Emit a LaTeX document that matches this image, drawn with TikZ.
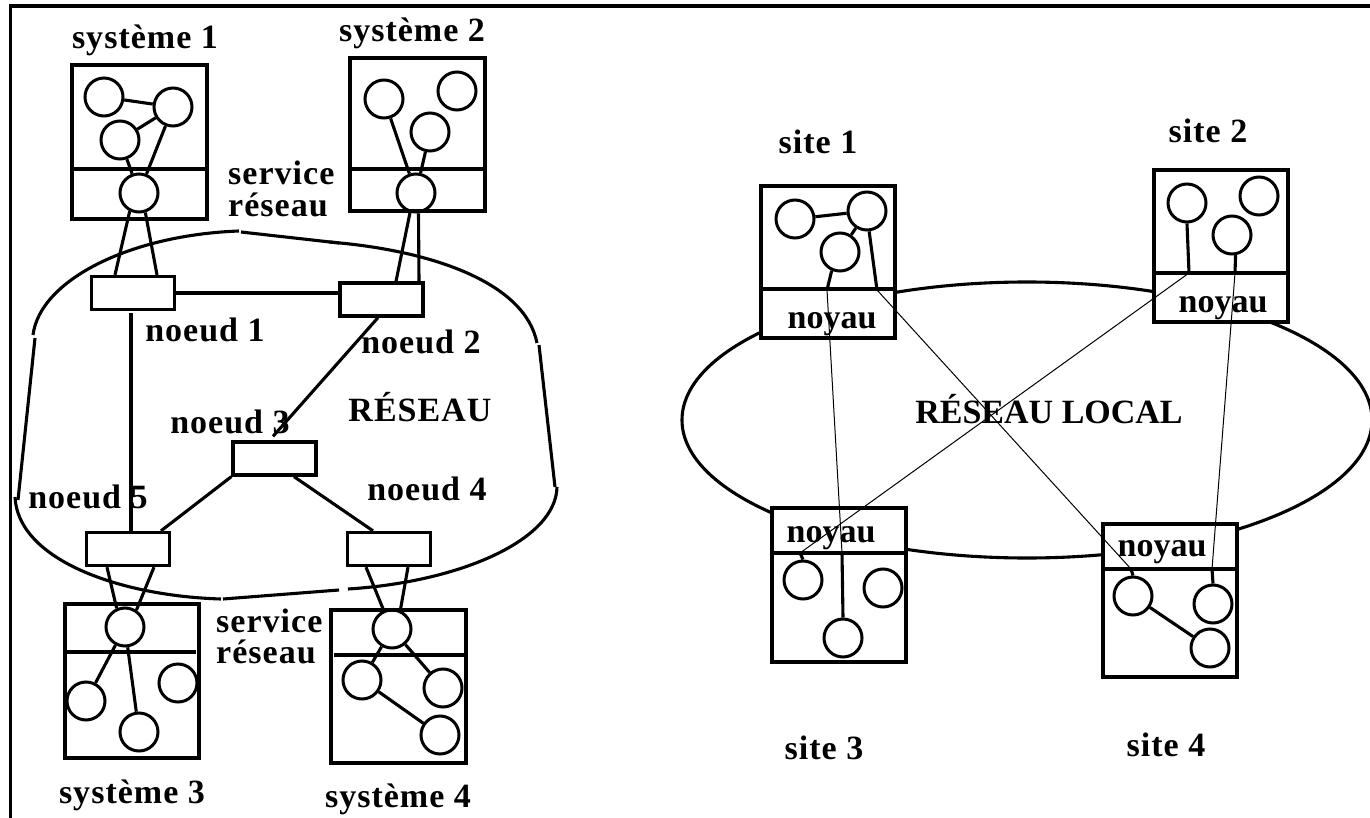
\documentclass[tikz,border=0pt]{standalone}
\usepackage{fontspec}
\setmainfont{Liberation Serif}
\newfontfamily\widefont[LetterSpace=3]{Liberation Serif}
\begin{document}
\begin{tikzpicture}[x=1pt,y=-1pt,
  frame/.style={line width=3.4pt},
  link/.style={line width=3.1pt},
  wire/.style={line width=1pt},
  hostbox/.style={line width=3.3pt},
  sitebox/.style={line width=3.3pt, fill=white},
  proc/.style={circle, draw, line width=3pt, minimum size=38pt, inner sep=0pt},
  router/.style={rectangle, draw, line width=3.3pt, minimum width=83pt, minimum height=33pt, inner sep=0pt},
  lbl/.style={font=\widefont\bfseries\fontsize{34}{31}\selectfont, inner sep=0pt, anchor=base},
  lbln/.style={font=\bfseries\fontsize{34}{31}\selectfont, inner sep=0pt, anchor=base}]
\useasboundingbox (0,0) rectangle (1370,818);

% outer frame
\draw[frame] (10.5,818) -- (10.5,6) -- (1370,6);

% ---------------- left: wide-area network ----------------
% network outline
\draw[link] (33,335) .. controls (40,280) and (130,235) .. (239,231);
\draw[link] (241,232) -- (339,243);
\draw[link] (329,242) .. controls (430,250) and (525,282) .. (537,343);
\draw[link] (539,345) -- (555,487);
\draw[link] (557,487) .. controls (556,540) and (460,582) .. (348,589);
\draw[link] (339,590) -- (223,599);
\draw[link] (221,599) .. controls (120,596) and (18,560) .. (15,497);
\draw[link] (35,338) -- (18,500);

% host systems
\draw[hostbox] (72,65) rectangle (207,219);
\draw[hostbox] (74,169) -- (205,169);
\draw[hostbox] (350,58) rectangle (485,211);
\draw[hostbox] (352,169) -- (483,169);
\draw[hostbox] (65,604) rectangle (199,758);
\draw[hostbox] (67,652) -- (196,652);
\draw[hostbox] (331,610) rectangle (466,763);
\draw[hostbox] (334,655) -- (464,655);

% processes of système 1
\node[proc] (a1) at (104,97) {};
\node[proc] (b1) at (173,107) {};
\node[proc] (c1) at (120,140) {};
\node[proc] (d1) at (139,193) {};
% processes of système 2
\node[proc] (a2) at (384,99) {};
\node[proc] (b2) at (457,91) {};
\node[proc] (c2) at (430,132) {};
\node[proc] (d2) at (416,193) {};
% processes of système 3
\node[proc] (d3) at (125,627) {};
\node[proc] (a3) at (86,701) {};
\node[proc] (b3) at (139,732) {};
\node[proc] (c3) at (178,683) {};
% processes of système 4
\node[proc] (d4) at (392,629) {};
\node[proc] (a4) at (362,680) {};
\node[proc] (b4) at (443,688) {};
\node[proc] (c4) at (440,735) {};

\draw[link] (a1) -- (b1);
\draw[link] (c1) -- (b1);
\draw[link] (c1) -- (d1);
\draw[link] (b1) -- (d1);
\draw[link] (a2) -- (d2);
\draw[link] (c2) -- (d2);
\draw[link] (d3) -- (a3);
\draw[link] (d3) -- (b3);
\draw[link] (d4) -- (a4);
\draw[link] (d4) -- (b4);
\draw[link] (a4) -- (c4);

% network nodes
\node[router] (n1) at (133,293) {};
\node[router] (n2) at (381.5,299.5) {};
\node[router] (n3) at (274.5,458.5) {};
\node[router] (n5) at (128,549) {};
\node[router] (n4) at (389,549) {};

\draw[link] (d1.-117) -- ([xshift=-18pt]n1.north);
\draw[link] (d1.-72) -- ([xshift=24pt]n1.north);
\draw[link] (d2.-107) -- ([xshift=14.5pt]n2.north);
\draw[link] (d2.-83) -- ([xshift=37.5pt]n2.north);
\draw[link] (n1.east) -- (n1.east -| n2.west);
\draw[link] ([xshift=-2pt,yshift=-2pt]n1.south) -- ([xshift=3pt]n5.north);
\draw[link] ([xshift=-3.5pt]n2.south) -- ([xshift=-1.5pt,yshift=4pt]n3.north);
\draw[link] (n3.south west) -- ([xshift=33pt]n5.north);
\draw[link] ([xshift=19.5pt]n3.south) -- ([xshift=-16pt]n4.north);
\draw[link] ([xshift=-21pt]n5.south) -- (d3.114);
\draw[link] ([xshift=26pt]n5.south) -- (d3.56);
\draw[link] ([xshift=-23pt]n4.south) -- (d4.114);
\draw[link] ([xshift=19pt]n4.south) -- (d4.66);

% labels
\node[lbl] (l-sys1) at (145,49) {système 1};
\node[lbl] (l-sys2) at (412,42) {système 2};
\node[lbl, anchor=base west] (l-srv1a) at (228,185) {service};
\node[lbl, anchor=base west] (l-srv1b) at (228,217) {réseau};
\node[lbl] (l-n1) at (205,341) {noeud 1};
\node[lbl] (l-n2) at (421,353) {noeud 2};
\node[lbl] (l-net) at (420,421) {RÉSEAU};
\node[lbl] (l-n3) at (230,433) {noeud 3};
\node[lbl] (l-n5) at (88,508) {noeud 5};
\node[lbl] (l-n4) at (427,500) {noeud 4};
\node[lbl, anchor=base west] (l-srv2a) at (216,632) {service};
\node[lbl, anchor=base west] (l-srv2b) at (216,663) {réseau};
\node[lbl] (l-sys3) at (132,803) {système 3};
\node[lbl] (l-sys4) at (398,807) {système 4};

% ---------------- right: local-area network ----------------
\draw[link] (1027,420) ellipse [x radius=345, y radius=138];

\draw[sitebox] (761,186) rectangle (895,338);
\draw[hostbox] (761,289) -- (895,289);
\draw[sitebox] (1154,170) rectangle (1288,322);
\draw[hostbox] (1154,273) -- (1288,273);
\draw[sitebox] (772,508) rectangle (906,662);
\draw[hostbox] (772,553) -- (906,553);
\draw[sitebox] (1103,524) rectangle (1237,677);
\draw[hostbox] (1103,569) -- (1237,569);

% processes of site 1
\node[proc] (p1) at (795,219) {};
\node[proc] (q1) at (867,211) {};
\node[proc] (r1) at (840,252) {};
% processes of site 2
\node[proc] (p2) at (1187,203) {};
\node[proc] (q2) at (1259,196) {};
\node[proc] (r2) at (1232,235) {};
% processes of site 3
\node[proc] (p3) at (803,580) {};
\node[proc] (q3) at (883,588) {};
\node[proc] (r3) at (843,638) {};
% processes of site 4
\node[proc] (p4) at (1133,596) {};
\node[proc] (q4) at (1213,604) {};
\node[proc] (r4) at (1210,648) {};

\draw[link] (p1) -- (q1);
\draw[link] (q1) -- (r1);
\draw[link] (p4) -- (r4);

% labels
\node[lbl] (l-site1) at (818,154) {site 1};
\node[lbl] (l-site2) at (1208,143) {site 2};
\node[lbln] (l-k1) at (832,328) {noyau};
\node[lbln] (l-k2) at (1223,312) {noyau};
\node[lbln] (l-k3) at (831,542) {noyau};
\node[lbln] (l-k4) at (1162,556) {noyau};
\node[lbln] (l-lan) at (1049,423) {RÉSEAU LOCAL};
\node[lbl] (l-site3) at (824,759) {site 3};
\node[lbl] (l-site4) at (1166,756) {site 4};

% links through the kernels
\coordinate (k1a) at (827,290);
\coordinate (k3a) at (842,553);
\coordinate (k1b) at (877,290);
\coordinate (k4b) at (1131,569);
\coordinate (k2c) at (1189,273);
\coordinate (k3c) at (800,553);
\coordinate (k2d) at (1235,273);
\coordinate (k4d) at (1212,569);

\draw[link] (r1.-114) -- (k1a);
\draw[wire] (k1a) -- (k3a);
\draw[link] (k3a) -- (r3.north);

\draw[link] (q1.-84) -- (k1b);
\draw[wire] (k1b) -- (k4b);
\draw[link] (k4b) -- (p4.north);

\draw[link] (p2.south) -- (k2c);
\draw[wire] (k2c) -- (k3c);
\draw[link] (k3c) -- (p3.north);

\draw[link] (r2.-80) -- (k2d);
\draw[wire] (k2d) -- (k4d);
\draw[link] (k4d) -- (q4.north);
\end{tikzpicture}
\end{document}
